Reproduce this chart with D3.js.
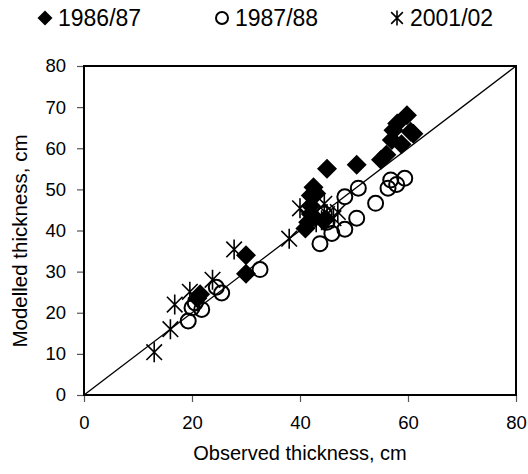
<!DOCTYPE html>
<html>
<head>
<meta charset="utf-8">
<script src="https://cdn.jsdelivr.net/npm/d3@7"></script>
<style>
  body { margin: 0; background: #fff; }
  text { font-family: Arial, "Liberation Sans", sans-serif; fill: #000; }
</style>
</head>
<body>
<div id="chart"></div>
<script>
// series: [observed, modelled]
var season8687 = [[21, 23.5], [21.5, 24.5], [30, 29.5], [30, 34], [41, 40.5], [41.5, 42], [42, 44], [42, 46],
  [42, 48.5], [42.5, 50.5], [43, 49], [44.5, 42.5], [45, 55], [50.5, 56], [55, 57.2], [56, 58.4],
  [57, 62], [57.3, 64.4], [58, 66], [58.8, 61], [59.8, 68], [61, 63.5], [60.5, 64]];
var season8788 = [[19.3, 18], [20, 21.2], [20.6, 22.4], [21.8, 20.8], [24.5, 26.2], [25.5, 24.8], [32.6, 30.5],
  [43.7, 36.8], [45.9, 39.3], [48.3, 40.3], [50.5, 43], [48.3, 48.2], [50.8, 50.3], [54, 46.6],
  [56.3, 50.3], [56.8, 52.3], [57.9, 51.2], [59.4, 52.7], [45, 42], [44.5, 44]];
var season0102 = [[13, 10.4], [16, 16], [16.8, 22], [19.6, 25.1], [23.8, 28], [27.8, 35.4], [38, 38],
  [40, 45.4], [41.5, 43], [43, 42], [44.5, 46.5], [45, 44], [46.2, 43], [47, 44.5], [44, 42.5]];
var seriesNames = ["1986/87", "1987/88", "2001/02"];
var xTicks = [0, 20, 40, 60, 80];
var yTicks = [0, 10, 20, 30, 40, 50, 60, 70, 80];

var W = 528, H = 474;
var svg = d3.select("#chart").append("svg").attr("width", W).attr("height", H);

var x = d3.scaleLinear().domain([0, 80]).range([84, 516]);
var y = d3.scaleLinear().domain([0, 80]).range([395, 66]);

// marker drawing helpers
function diamond(g, r) {
  g.append("path").attr("d", "M0," + (-r) + "L" + r + ",0L0," + r + "L" + (-r) + ",0Z").attr("fill", "#000");
}
function ring(g, r) {
  g.append("circle").attr("r", r).attr("fill", "none").attr("stroke", "#000").attr("stroke-width", 2);
}
function star(g, r) {
  var d = r * 0.78;
  g.append("path")
    .attr("d", "M" + (-d) + "," + (-d) + "L" + d + "," + d + "M" + d + "," + (-d) + "L" + (-d) + "," + d + "M0," + (-r) + "L0," + r)
    .attr("stroke", "#000").attr("stroke-width", 1.6).attr("fill", "none");
}

// axes
var xAxis = svg.append("g").attr("transform", "translate(0,395)")
  .call(d3.axisBottom(x).tickValues(xTicks).tickSize(7).tickPadding(14));
var yAxis = svg.append("g").attr("transform", "translate(84,0)")
  .call(d3.axisLeft(y).tickValues(yTicks).tickSize(7).tickPadding(11));
[xAxis, yAxis].forEach(function(a) {
  a.select(".domain").remove();
  a.selectAll("line").attr("stroke", "#555").attr("stroke-width", 1.2);
  a.selectAll("text").style("font-size", "18.5px").attr("font-family", "Arial, 'Liberation Sans', sans-serif");
});

// 1:1 line
svg.append("line")
  .attr("x1", x(0)).attr("y1", y(0)).attr("x2", x(80)).attr("y2", y(80))
  .attr("stroke", "#000").attr("stroke-width", 1.3);

// plot frame
svg.append("rect")
  .attr("x", x(0)).attr("y", y(80)).attr("width", x(80) - x(0)).attr("height", y(0) - y(80))
  .attr("fill", "none").attr("stroke", "#000").attr("stroke-width", 2);

function plot(data, fn, r) {
  svg.append("g").selectAll("g").data(data).enter().append("g")
    .attr("transform", function(d) { return "translate(" + x(d[0]) + "," + y(d[1]) + ")"; })
    .each(function() { fn(d3.select(this), r); });
}
plot(season8788, ring, 7.5);
plot(season0102, star, 10);
plot(season8687, diamond, 10);

// legend
var legendX = [45, 222, 397];
var legendFns = [diamond, ring, star];
var legendR = [7.5, 6, 7.5];
seriesNames.forEach(function(name, i) {
  var g = svg.append("g").attr("transform", "translate(" + legendX[i] + ",18)");
  legendFns[i](g, legendR[i]);
  g.append("text").attr("x", 13).attr("y", 8).style("font-size", "23px").text(name);
});

// axis titles
svg.append("text").attr("x", 300).attr("y", 460).attr("text-anchor", "middle")
  .style("font-size", "20px").text("Observed thickness, cm");
svg.append("text").attr("transform", "translate(27,241) rotate(-90)").attr("text-anchor", "middle")
  .style("font-size", "20.5px").text("Modelled thickness, cm");
</script>
</body>
</html>
